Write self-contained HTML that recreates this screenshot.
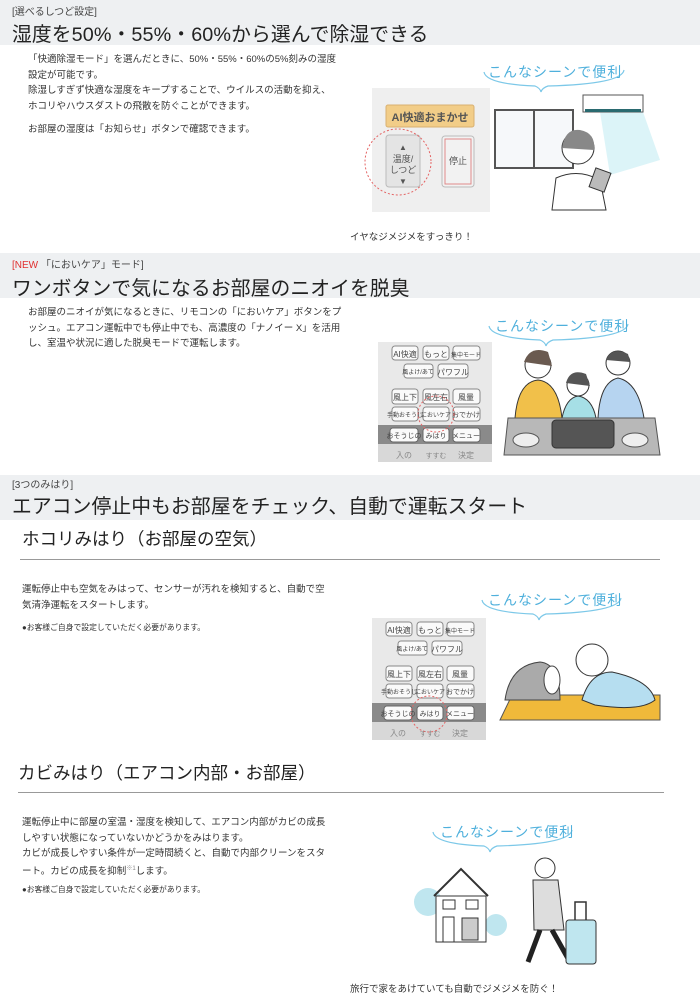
<!DOCTYPE html>
<html><head><meta charset="utf-8"><style>
*{margin:0;padding:0;box-sizing:border-box}
body{width:700px;height:1000px;background:#fff;position:relative;overflow:hidden;font-family:"Liberation Sans","Noto Sans CJK JP",sans-serif;color:#333}
.a{position:absolute;white-space:nowrap}
.band{position:absolute;left:0;width:700px;background:#eef0f2}
.tag{font-size:10px;color:#444}
.h1{font-size:19.8px;color:#222;letter-spacing:0.1px}
.p{font-size:9.5px;line-height:15.5px;color:#333}
.h2{font-size:17.5px;color:#222}
.rule{position:absolute;height:1px;background:#999}
.note{font-size:7.8px;color:#333}
.bub{font-size:14px;color:#4fb0dc;letter-spacing:1px}
</style></head><body>

<!-- Section 1 -->
<div class="band" style="top:0;height:45px"></div>
<div class="a tag" style="left:12px;top:3px">[選べるしつど設定]</div>
<div class="a h1" style="left:12px;top:18px">湿度を50%・55%・60%から選んで除湿できる</div>
<div class="a p" style="left:28px;top:52px">「快適除湿モード」を選んだときに、50%・55%・60%の5%刻みの湿度<br>設定が可能です。<br>除湿しすぎず快適な湿度をキープすることで、ウイルスの活動を抑え、<br>ホコリやハウスダストの飛散を防ぐことができます。</div>
<div class="a p" style="left:28px;top:122px">お部屋の湿度は「お知らせ」ボタンで確認できます。</div>
<div class="a p" style="left:350px;top:230px">イヤなジメジメをすっきり！</div>

<svg class="a" style="left:0;top:0" width="700" height="1000">
 <g fill="none" stroke="#7cc8e8" stroke-width="1.2">
  <path d="M484 72 Q486 84 535 86 Q540 88 541 92 Q542 88 548 86 Q622 84 624 70"/>
  <path d="M489 326 Q491 338 540 340 Q545 342 546 346 Q547 342 553 340 Q626 338 628 324"/>
  <path d="M482 600 Q484 612 533 614 Q538 616 539 620 Q540 616 546 614 Q619 612 621 598"/>
  <path d="M433 832 Q435 844 484 846 Q489 848 490 852 Q491 848 497 846 Q570 844 572 830"/>
 </g>
 <rect x="372" y="88" width="118" height="124" fill="#efefef"/>
 <rect x="386" y="105" width="88" height="22" rx="2" fill="#f2cd88" stroke="#d8b070"/>
 <text x="430" y="121" font-size="11" fill="#555" text-anchor="middle" font-weight="bold">AI快適おまかせ</text>
 <rect x="386" y="135" width="34" height="52" rx="3" fill="#e4e4e4" stroke="#bbb"/>
 <text x="403" y="150" font-size="8" fill="#555" text-anchor="middle">▲</text>
 <text x="403" y="162" font-size="9" fill="#555" text-anchor="middle">温度/</text>
 <text x="403" y="173" font-size="9" fill="#555" text-anchor="middle">しつど</text>
 <text x="403" y="184" font-size="8" fill="#555" text-anchor="middle">▼</text>
 <rect x="442" y="136" width="32" height="51" rx="3" fill="#f2f2f2" stroke="#bbb"/>
 <rect x="445" y="139" width="26" height="45" fill="none" stroke="#e08a8a"/>
 <text x="458" y="164" font-size="9" fill="#555" text-anchor="middle">停止</text>
 <circle cx="398" cy="162" r="33" fill="none" stroke="#e46464" stroke-dasharray="2 2"/>
 <rect x="495" y="110" width="78" height="58" fill="#f6f8fa" stroke="#555" stroke-width="2"/>
 <line x1="534" y1="110" x2="534" y2="168" stroke="#555" stroke-width="2"/>
 <path d="M600 112 L643 112 L660 160 L610 175 Z" fill="#cdeff5" opacity="0.7"/>
 <rect x="583" y="95" width="60" height="17" fill="#fff" stroke="#555"/>
 <rect x="585" y="109" width="56" height="3" fill="#2a6a70"/>
 <circle cx="578" cy="148" r="16" fill="#fff" stroke="#333"/>
 <path d="M562 148 Q565 128 580 130 Q596 133 594 150" fill="#888"/>
 <path d="M552 210 L556 178 Q578 168 600 180 L606 210 Z" fill="#fff" stroke="#333"/>
 <rect x="592" y="170" width="16" height="20" fill="#bbb" stroke="#333" transform="rotate(20 600 180)"/>

 <rect x="378" y="342" width="114" height="120" fill="#e9e9e9"/>
 <rect x="378" y="425" width="114" height="37" fill="#8a8a8a"/>
 <rect x="378" y="444" width="114" height="18" fill="#d8d8d8"/>
 <g font-size="8" fill="#444" text-anchor="middle">
  <rect x="392" y="346" width="26" height="14" rx="3" fill="#fafafa" stroke="#888"/><text x="405" y="357">AI快適</text>
  <rect x="423" y="346" width="26" height="14" rx="3" fill="#fafafa" stroke="#888"/><text x="436" y="357">もっと</text>
  <rect x="453" y="346" width="27" height="14" rx="3" fill="#fafafa" stroke="#888"/><text x="466" y="357" font-size="6">集中モード</text>
  <rect x="404" y="364" width="29" height="14" rx="3" fill="#fafafa" stroke="#888"/><text x="418" y="374" font-size="6">風よけ/あて</text>
  <rect x="438" y="364" width="30" height="14" rx="3" fill="#fafafa" stroke="#888"/><text x="453" y="375">パワフル</text>
  <rect x="392" y="389" width="26" height="15" rx="3" fill="#fafafa" stroke="#888"/><text x="405" y="400">風上下</text>
  <rect x="423" y="389" width="26" height="15" rx="3" fill="#fafafa" stroke="#888"/><text x="436" y="400">風左右</text>
  <rect x="453" y="389" width="27" height="15" rx="3" fill="#fafafa" stroke="#888"/><text x="466" y="400">風量</text>
  <rect x="392" y="407" width="26" height="14" rx="3" fill="#fafafa" stroke="#888"/><text x="405" y="417" font-size="6">手動おそうじ</text>
  <rect x="423" y="407" width="26" height="14" rx="3" fill="#fafafa" stroke="#888"/><text x="436" y="417" font-size="6">においケア</text>
  <rect x="453" y="407" width="27" height="14" rx="3" fill="#fafafa" stroke="#888"/><text x="466" y="417" font-size="7">おでかけ</text>
  <rect x="390" y="428" width="28" height="14" rx="3" fill="#fafafa" stroke="#666"/><text x="404" y="438" font-size="7">おそうじの</text>
  <rect x="423" y="428" width="26" height="14" rx="3" fill="#fafafa" stroke="#666"/><text x="436" y="438" font-size="7">みはり</text>
  <rect x="453" y="428" width="27" height="14" rx="3" fill="#fafafa" stroke="#666"/><text x="466" y="438" font-size="7">メニュー</text>
  <text x="404" y="458" fill="#888">入の</text><text x="436" y="458" fill="#888" font-size="7">すすむ</text><text x="466" y="458" fill="#888">決定</text>
 </g>
 <circle cx="436" cy="414" r="18" fill="none" stroke="#e46464" stroke-dasharray="2 2"/>
 <circle cx="538" cy="365" r="13" fill="#fff" stroke="#333"/><path d="M524 362 Q530 345 548 352 L552 366" fill="#6a5a50"/>
 <path d="M515 418 Q518 382 538 380 Q558 382 562 418 Z" fill="#f1c04a" stroke="#333"/>
 <circle cx="578" cy="385" r="11" fill="#fff" stroke="#333"/><path d="M566 383 Q570 368 586 374 L590 386" fill="#555"/>
 <path d="M562 418 Q566 398 578 396 Q592 398 596 418 Z" fill="#a6dfe6" stroke="#333"/>
 <circle cx="618" cy="363" r="12" fill="#fff" stroke="#333"/><path d="M606 360 Q612 346 628 354 L630 362" fill="#555"/>
 <path d="M598 418 Q600 382 618 378 Q638 382 644 418 Z" fill="#b6d4f0" stroke="#333"/>
 <path d="M508 418 L655 418 L660 455 L504 455 Z" fill="#b8b8b8" stroke="#555"/>
 <rect x="552" y="420" width="62" height="28" rx="4" fill="#555" stroke="#333"/>
 <ellipse cx="526" cy="440" rx="13" ry="7" fill="#eee" stroke="#555"/>
 <ellipse cx="635" cy="440" rx="13" ry="7" fill="#eee" stroke="#555"/>

 <rect x="372" y="618" width="114" height="122" fill="#e9e9e9"/>
 <rect x="372" y="703" width="114" height="37" fill="#8a8a8a"/>
 <rect x="372" y="722" width="114" height="18" fill="#d8d8d8"/>
 <g font-size="8" fill="#444" text-anchor="middle">
  <rect x="386" y="622" width="26" height="14" rx="3" fill="#fafafa" stroke="#888"/><text x="399" y="633">AI快適</text>
  <rect x="417" y="622" width="26" height="14" rx="3" fill="#fafafa" stroke="#888"/><text x="430" y="633">もっと</text>
  <rect x="447" y="622" width="27" height="14" rx="3" fill="#fafafa" stroke="#888"/><text x="460" y="633" font-size="6">集中モード</text>
  <rect x="398" y="641" width="29" height="14" rx="3" fill="#fafafa" stroke="#888"/><text x="412" y="651" font-size="6">風よけ/あて</text>
  <rect x="432" y="641" width="30" height="14" rx="3" fill="#fafafa" stroke="#888"/><text x="447" y="652">パワフル</text>
  <rect x="386" y="666" width="26" height="15" rx="3" fill="#fafafa" stroke="#888"/><text x="399" y="677">風上下</text>
  <rect x="417" y="666" width="26" height="15" rx="3" fill="#fafafa" stroke="#888"/><text x="430" y="677">風左右</text>
  <rect x="447" y="666" width="27" height="15" rx="3" fill="#fafafa" stroke="#888"/><text x="460" y="677">風量</text>
  <rect x="386" y="684" width="26" height="14" rx="3" fill="#fafafa" stroke="#888"/><text x="399" y="694" font-size="6">手動おそうじ</text>
  <rect x="417" y="684" width="26" height="14" rx="3" fill="#fafafa" stroke="#888"/><text x="430" y="694" font-size="6">においケア</text>
  <rect x="447" y="684" width="27" height="14" rx="3" fill="#fafafa" stroke="#888"/><text x="460" y="694" font-size="7">おでかけ</text>
  <rect x="384" y="706" width="28" height="14" rx="3" fill="#fafafa" stroke="#666"/><text x="398" y="716" font-size="7">おそうじの</text>
  <rect x="417" y="706" width="26" height="14" rx="3" fill="#fafafa" stroke="#666"/><text x="430" y="716" font-size="7">みはり</text>
  <rect x="447" y="706" width="27" height="14" rx="3" fill="#fafafa" stroke="#666"/><text x="460" y="716" font-size="7">メニュー</text>
  <text x="398" y="736" fill="#888">入の</text><text x="430" y="736" fill="#888" font-size="7">すすむ</text><text x="460" y="736" fill="#888">決定</text>
 </g>
 <circle cx="429" cy="714" r="18" fill="none" stroke="#e46464" stroke-dasharray="2 2"/>
 <path d="M500 720 L512 695 L660 695 L660 720 Z" fill="#f0b93a" stroke="#555"/>
 <path d="M505 700 Q510 665 540 662 Q560 664 560 700 Z" fill="#aaa" stroke="#444"/>
 <ellipse cx="552" cy="680" rx="8" ry="14" fill="#fff" stroke="#444"/>
 <circle cx="592" cy="660" r="16" fill="#fff" stroke="#333"/>
 <path d="M582 700 Q590 672 612 672 Q650 680 655 700 Q640 712 595 705 Z" fill="#b6def0" stroke="#333"/>

 <circle cx="428" cy="902" r="14" fill="#bfe6ef"/>
 <circle cx="496" cy="925" r="11" fill="#bfe6ef"/>
 <path d="M434 896 L461 869 L488 896" fill="none" stroke="#333" stroke-width="2"/>
 <rect x="436" y="896" width="50" height="46" fill="#fff" stroke="#333"/>
 <rect x="443" y="900" width="12" height="9" fill="#fff" stroke="#333"/><rect x="466" y="900" width="12" height="9" fill="#fff" stroke="#333"/>
 <rect x="443" y="917" width="11" height="25" fill="#fff" stroke="#333"/>
 <rect x="462" y="918" width="16" height="22" fill="#ccc" stroke="#333"/>
 <circle cx="545" cy="868" r="10" fill="#fff" stroke="#333"/>
 <path d="M533 880 L558 880 L564 930 L534 930 Z" fill="#ddd" stroke="#333"/>
 <path d="M540 930 L528 962 M552 930 L570 962" stroke="#222" stroke-width="5"/>
 <rect x="566" y="920" width="30" height="44" rx="3" fill="#bfe6ef" stroke="#333"/>
 <path d="M575 920 L575 902 L586 902 L586 920" fill="none" stroke="#333" stroke-width="1.5"/>
</svg>

<div class="a bub" style="left:488px;top:62px">こんなシーンで便利</div>
<div class="a bub" style="left:495px;top:316px">こんなシーンで便利</div>
<div class="a bub" style="left:488px;top:590px">こんなシーンで便利</div>
<div class="a bub" style="left:440px;top:822px">こんなシーンで便利</div>

<div class="band" style="top:253px;height:45px"></div>
<div class="a tag" style="left:12px;top:256px"><span style="color:#e03030">[NEW</span> 「においケア」モード]</div>
<div class="a h1" style="left:12px;top:272px">ワンボタンで気になるお部屋のニオイを脱臭</div>
<div class="a p" style="left:28px;top:305px">お部屋のニオイが気になるときに、リモコンの「においケア」ボタンをプ<br>ッシュ。エアコン運転中でも停止中でも、高濃度の「ナノイー X」を活用<br>し、室温や状況に適した脱臭モードで運転します。</div>

<div class="band" style="top:475px;height:45px"></div>
<div class="a tag" style="left:12px;top:476px">[3つのみはり]</div>
<div class="a h1" style="left:12px;top:490px">エアコン停止中もお部屋をチェック、自動で運転スタート</div>
<div class="a h2" style="left:22px;top:526px">ホコリみはり（お部屋の空気）</div>
<div class="rule" style="left:20px;top:559px;width:640px"></div>
<div class="a p" style="left:22px;top:582px">運転停止中も空気をみはって、センサーが汚れを検知すると、自動で空<br>気清浄運転をスタートします。</div>
<div class="a note" style="left:22px;top:622px">●お客様ご自身で設定していただく必要があります。</div>

<div class="a h2" style="left:18px;top:760px">カビみはり（エアコン内部・お部屋）</div>
<div class="rule" style="left:18px;top:792px;width:646px"></div>
<div class="a p" style="left:22px;top:815px">運転停止中に部屋の室温・湿度を検知して、エアコン内部がカビの成長<br>しやすい状態になっていないかどうかをみはります。<br>カビが成長しやすい条件が一定時間続くと、自動で内部クリーンをスタ<br>ート。カビの成長を抑制<sup style="font-size:6px;color:#888">※1</sup>します。</div>
<div class="a note" style="left:22px;top:884px">●お客様ご自身で設定していただく必要があります。</div>
<div class="a p" style="left:350px;top:982px">旅行で家をあけていても自動でジメジメを防ぐ！</div>
</body></html>
